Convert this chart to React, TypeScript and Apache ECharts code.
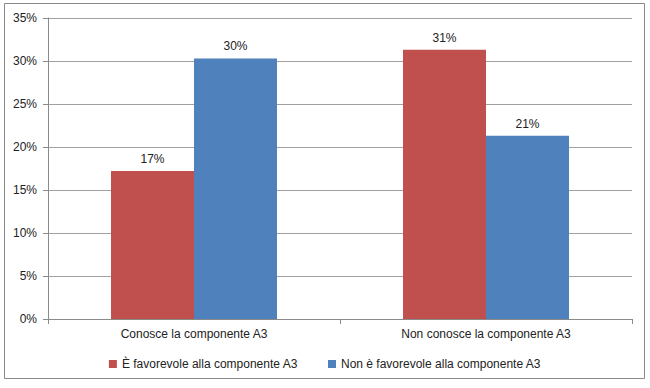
import React, { useEffect, useRef } from "react";
import * as echarts from "echarts";

const categories = ["Conosce la componente A3", "Non conosce la componente A3"];
const seriesNames = ["È favorevole alla componente A3", "Non è favorevole alla componente A3"];
const favorevole = [17.2, 31.3];
const nonFavorevole = [30.3, 21.3];
const yTicks = { min: 0, max: 35, interval: 5 };

export default function App() {
  const ref = useRef<HTMLDivElement>(null);
  useEffect(() => {
    document.body.style.margin = "0";
    const chart = echarts.init(ref.current!, null, { renderer: "svg" });
    const font = "'Liberation Sans', Arial, sans-serif";
    const label = {
      show: true,
      position: "top",
      distance: 6,
      color: "#222",
      fontSize: 12,
      fontFamily: font,
      formatter: (p: any) => Math.round(p.value) + "%",
    };
    chart.setOption({
      animation: false,
      backgroundColor: "#fff",
      textStyle: { fontFamily: font },
      graphic: [
        {
          type: "rect",
          shape: { x: 4.5, y: 3.5, width: 640, height: 375 },
          style: { fill: "none", stroke: "#8a8a8a", lineWidth: 1 },
          silent: true,
        },
      ],
      grid: { left: 48, right: 18, top: 18, bottom: 69 },
      legend: {
        data: seriesNames,
        top: 353,
        left: "center",
        icon: "rect",
        itemWidth: 8,
        itemHeight: 8,
        itemGap: 30,
        textStyle: { fontSize: 12, color: "#222", fontFamily: font },
      },
      xAxis: {
        type: "category",
        data: categories,
        axisLine: { show: true, lineStyle: { color: "#8a8a8a" } },
        axisTick: { show: true, length: 5, lineStyle: { color: "#8a8a8a" } },
        axisLabel: { fontSize: 12, color: "#222", margin: 9, fontFamily: font },
      },
      yAxis: {
        type: "value",
        min: yTicks.min,
        max: yTicks.max,
        interval: yTicks.interval,
        axisLine: { show: true, lineStyle: { color: "#8a8a8a" } },
        axisTick: { show: true, length: 5, lineStyle: { color: "#8a8a8a" } },
        axisLabel: {
          fontSize: 12,
          color: "#222",
          margin: 11,
          fontFamily: font,
          formatter: (v: number) => v + "%",
        },
        splitLine: { show: true, lineStyle: { color: "#a0a0a0" } },
      },
      series: [
        {
          name: seriesNames[0],
          type: "bar",
          data: favorevole,
          barWidth: 83,
          barGap: "0%",
          itemStyle: { color: "#c0504d" },
          label,
        },
        {
          name: seriesNames[1],
          type: "bar",
          data: nonFavorevole,
          barWidth: 83,
          barGap: "0%",
          itemStyle: { color: "#4f81bd" },
          label,
        },
      ],
    });
    return () => chart.dispose();
  }, []);
  return (
    <div
      ref={ref}
      style={{ position: "fixed", left: 0, top: 0, width: 650, height: 388 }}
    />
  );
}
